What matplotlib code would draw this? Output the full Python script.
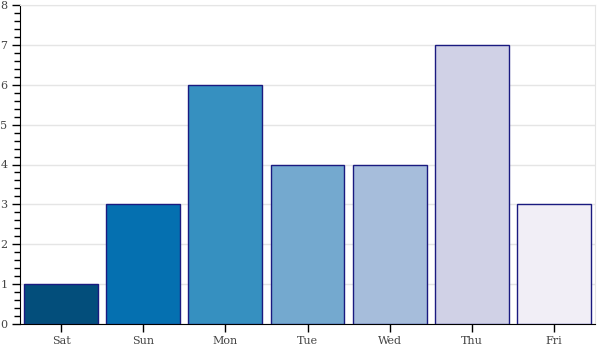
import matplotlib
matplotlib.use("Agg")
import matplotlib.pyplot as plt
from matplotlib.ticker import MultipleLocator

days = ["Sat", "Sun", "Mon", "Tue", "Wed", "Thu", "Fri"]
counts = [1, 3, 6, 4, 4, 7, 3]
colors = ["#034e7b", "#0570b0", "#3690c0", "#74a9cf", "#a6bddb", "#d0d1e6", "#f1eef6"]

plt.rcParams['font.family'] = ['DejaVu Serif']

fig = plt.figure(figsize=(6, 3.5), dpi=100)
ax = fig.add_axes([20 / 600, 26 / 350, 575 / 600, 319 / 350])

xs = [i + 0.5 for i in range(len(days))]
ax.bar(xs, counts, width=0.9, color=colors, edgecolor="#1a1a80", linewidth=1, zorder=3)

ax.set_xlim(0, 7)
ax.set_ylim(0, 8)
ax.set_xticks(xs)
ax.set_xticklabels(days)
ax.yaxis.set_major_locator(MultipleLocator(1))
ax.yaxis.set_minor_locator(MultipleLocator(0.2))

ax.grid(axis="y", color="#e5e5e5", linewidth=1, zorder=0)
for side in ["top", "right"]:
    ax.spines[side].set_color("#e5e5e5")
ax.spines["left"].set_color("black")
ax.spines["bottom"].set_color("black")

ax.tick_params(axis="both", which="major", length=6, width=1, color="black",
               labelsize=8, labelcolor="#444444", pad=3)
ax.tick_params(axis="y", which="minor", length=4, width=1, color="black")
ax.tick_params(axis="x", which="major", pad=3)

fig.savefig("out.png", dpi=100)
